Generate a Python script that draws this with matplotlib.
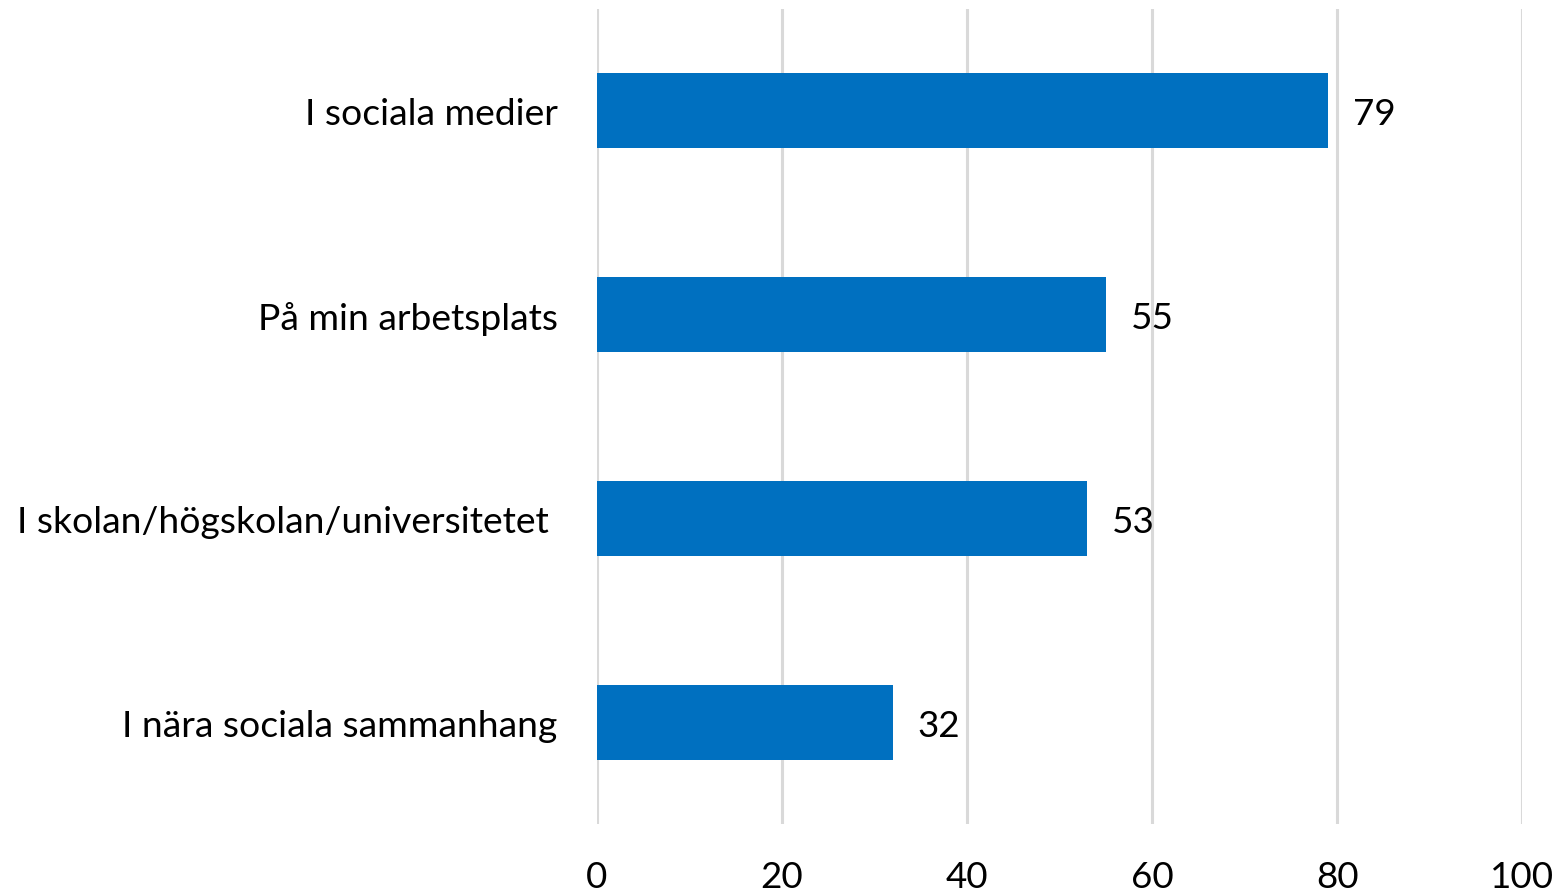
import matplotlib.pyplot as plt

# data
categories = ['I sociala medier', 'På min arbetsplats',
              'I skolan/högskolan/universitetet ', 'I nära sociala sammanhang']
values = [79, 55, 53, 32]
xticks = [0, 20, 40, 60, 80, 100]

plt.rcParams['font.family'] = ['Lato', 'DejaVu Sans']

fig = plt.figure(figsize=(15.58, 8.95), dpi=100)
ax = fig.add_axes([0.383, 0.078, 0.594, 0.911])

ypos = list(range(len(categories)))
ax.barh(ypos, values, height=0.37, color='#0070C0', zorder=3)

for y, v in zip(ypos, values):
    ax.text(v + 2.7, y, str(v), va='center_baseline', ha='left', fontsize=26.5, color='#000000')

ax.set_xlim(0, 100)
ax.set_ylim(3.5, -0.5)
ax.set_xticks(xticks)
ax.set_yticks(ypos)
ax.set_yticklabels(categories, fontsize=26.8)
ax.tick_params(axis='x', labelsize=26.5, length=0, pad=26)
ax.tick_params(axis='y', length=0, pad=28)

ax.grid(axis='x', color='#D9D9D9', linewidth=2.2, zorder=0)
for s in ax.spines.values():
    s.set_visible(False)

fig.savefig('out.png', dpi=100)
